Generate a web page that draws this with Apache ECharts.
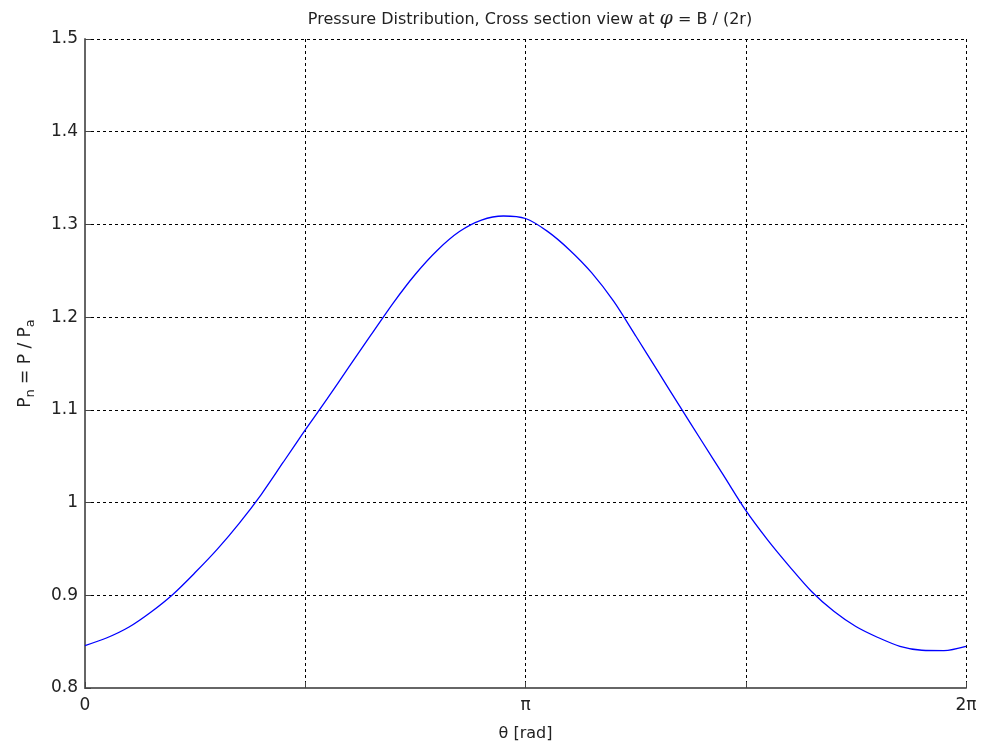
<!DOCTYPE html>
<html>
<head>
<meta charset="utf-8">
<script src="https://cdn.jsdelivr.net/npm/echarts@6/dist/echarts.min.js"></script>
<style>
  html, body { margin: 0; padding: 0; background: #fff; }
  #chart { width: 983px; height: 749px; }
</style>
</head>
<body>
<div id="chart"></div>
<script>
// Angle around the bearing in steps of pi/20 (index k -> k * pi / 20)
const thetaSteps = [
  0, 1, 2, 3, 4, 5, 6, 7, 8, 9, 10, 11, 12, 13, 14, 15, 16, 17, 18, 19, 20,
  21, 22, 23, 24, 25, 26, 27, 28, 29, 30, 31, 32, 33, 34, 35, 36, 37, 38, 39, 40
];
// Normalised pressure Pn = P / Pa at each angle
const pressure = [
  0.8458, 0.8542, 0.8658, 0.8820, 0.9012, 0.9245, 0.9495, 0.9776, 1.0087, 1.0435,
  1.0783, 1.1120, 1.1468, 1.1813, 1.2155, 1.2463, 1.2722, 1.2923, 1.3047, 1.3091,
  1.3064, 1.2925, 1.2725, 1.2480, 1.2172, 1.1799, 1.1420, 1.1040, 1.0664, 1.0290,
  0.9915, 0.9595, 0.9307, 0.9038, 0.8827, 0.8663, 0.8545, 0.8450, 0.8407, 0.8403,
  0.8448
];
// Tick labels on the angle axis (only 0, pi and 2pi carry text)
const xTickLabels = { 0: '0', 2: 'π', 4: '2π' };
const yMin = 0.8, yMax = 1.5, yStep = 0.1;

const points = thetaSteps.map((k, i) => [k * Math.PI / 20, pressure[i]]);
const font = 'DejaVu Sans, Liberation Sans, Arial, sans-serif';

const chart = echarts.init(document.getElementById('chart'), null, { renderer: 'canvas' });
chart.setOption({
  backgroundColor: '#ffffff',
  animation: false,
  title: {
    text: 'Pressure Distribution, Cross section view at {phi|φ} = B / (2r)',
    left: 525,
    textAlign: 'center',
    top: 5,
    textStyle: {
      fontFamily: font,
      fontSize: 16,
      fontWeight: 'normal',
      color: '#222',
      rich: {
        phi: { fontFamily: 'DejaVu Serif, serif', fontStyle: 'italic', fontSize: 19, color: '#222' }
      }
    }
  },
  grid: { left: 85, right: 17, top: 39, bottom: 61, containLabel: false },
  xAxis: {
    type: 'value',
    min: 0,
    max: 2 * Math.PI,
    interval: Math.PI / 2,
    name: 'θ [rad]',
    nameLocation: 'middle',
    nameGap: 38,
    nameTextStyle: { fontFamily: font, fontSize: 16, color: '#222' },
    axisLine: { show: true, onZero: false, lineStyle: { color: '#666', width: 2 } },
    axisTick: { show: true, inside: true, length: 6, lineStyle: { color: '#444', width: 1 } },
    axisLabel: {
      show: true,
      margin: 9,
      fontFamily: font,
      fontSize: 17,
      color: '#222',
      showMinLabel: true,
      showMaxLabel: true,
      formatter: function (v) {
        const k = Math.round(v / (Math.PI / 2));
        return xTickLabels[k] !== undefined ? xTickLabels[k] : '';
      }
    },
    splitLine: { show: true, lineStyle: { color: '#000', type: [3, 3], width: 1 } }
  },
  yAxis: {
    type: 'value',
    min: yMin,
    max: yMax,
    interval: yStep,
    name: 'P{sub|n} = P / P{sub|a}',
    nameLocation: 'middle',
    nameRotate: 90,
    nameGap: 48,
    nameTextStyle: {
      fontFamily: font,
      fontSize: 17,
      color: '#222',
      rich: {
        sub: { fontFamily: font, fontSize: 13, color: '#222', verticalAlign: 'bottom', padding: [9, 0, 0, 0] }
      }
    },
    axisLine: { show: true, lineStyle: { color: '#666', width: 2 } },
    axisTick: { show: true, inside: true, length: 6, lineStyle: { color: '#444', width: 1 } },
    axisLabel: {
      margin: 7,
      fontFamily: font,
      fontSize: 17,
      color: '#222',
      formatter: function (v) { return String(Math.round(v * 10) / 10); }
    },
    splitLine: { show: true, lineStyle: { color: '#000', type: [3, 3], width: 1 } }
  },
  series: [{
    type: 'line',
    data: points,
    smooth: 0.3,
    showSymbol: false,
    lineStyle: { color: '#0000ff', width: 1.3 },
    clip: true
  }]
});
</script>
</body>
</html>
